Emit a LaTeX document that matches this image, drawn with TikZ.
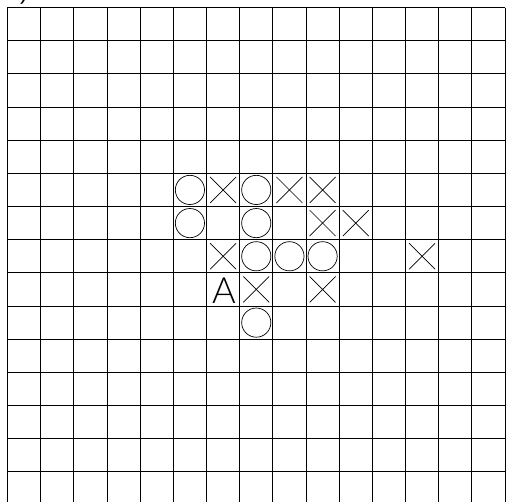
\documentclass[tikz,border=0pt]{standalone}
\usepackage{fontspec}
\setmainfont{Liberation Sans}
\newfontfamily\thinfont[UprightFont=*-Light]{Lato}
\usetikzlibrary{shapes.misc}
\begin{document}
\begin{tikzpicture}[x=1cm, y=-1cm,
  gridline/.style={line width=0.7pt},
  ostone/.style={circle, draw, line width=0.6pt, minimum size=0.88cm, inner sep=0pt},
  xstone/.style={cross out, draw, line width=0.6pt, minimum size=0.76cm, inner sep=0pt}]
  \useasboundingbox (-0.226,-0.226) rectangle (15.029,14.908);
  \node[anchor=south west, inner sep=0pt, font=\fontsize{20}{20}\selectfont] (tag) at (-0.02,-0.10) {a)};
  \foreach \y in {0,...,14} \draw[gridline] (0,\y) -- (15,\y);
  \foreach \x in {0,...,15} \draw[gridline] (\x,0) -- (\x,14.908);
  % circles
  \foreach \c/\r in {5/5,7/5,5/6,7/6,7/7,8/7,9/7,7/9}
    \node[ostone] (o-\c-\r) at (\c+0.5,\r+0.5) {};
  % crosses
  \foreach \c/\r in {6/5,8/5,9/5,9/6,10/6,6/7,12/7,7/8,9/8}
    \node[xstone] (x-\c-\r) at (\c+0.5,\r+0.5) {};
  \node[font=\thinfont\fontsize{31}{31}\selectfont, inner sep=0pt] (pointA) at (6.53,8.53) {A};
\end{tikzpicture}
\end{document}
